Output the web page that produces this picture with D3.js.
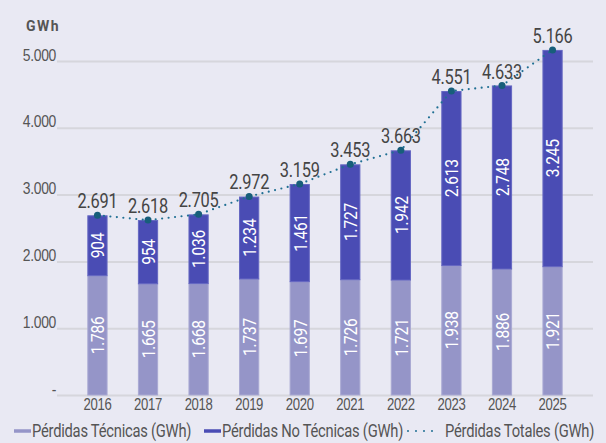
<!DOCTYPE html>
<meta charset="utf-8">
<style>
body { margin: 0; background: #e9e9f3; }
svg { display: block; font-family: Roboto, sans-serif; }
.axis .domain { display: none; }
.axis line { stroke: #d6d6dc; stroke-width: 2; }
.axis text { fill: #555; font-size: 17px; letter-spacing: -0.4px; }
</style>
<body>
<script src="https://cdn.jsdelivr.net/npm/d3@7"></script>
<script>
var years = ['2016', '2017', '2018', '2019', '2020', '2021', '2022', '2023', '2024', '2025']
var tecnicas = [1786, 1665, 1668, 1737, 1697, 1726, 1721, 1938, 1886, 1921]
var noTecnicas = [904, 954, 1036, 1234, 1461, 1727, 1942, 2613, 2748, 3245]
var totales = [2691, 2618, 2705, 2972, 3159, 3453, 3663, 4551, 4633, 5166]
var yTicks = [0, 1000, 2000, 3000, 4000, 5000]

var W = 606, H = 443
var m = { left: 57, right: 593, top: 61, bottom: 395 }
var squeeze = 0.82

var fmt = function (n) { return n === 0 ? '-' : d3.format(',')(n).replace(/,/g, '.') }

var svg = d3.select('body').append('svg').attr('width', W).attr('height', H)

var x = d3.scaleBand().domain(years).range([m.left, m.right]).padding(0.6)
var y = d3.scaleLinear().domain([0, 5000]).range([m.bottom, m.top])

var gy = svg.append('g')
    .attr('class', 'y axis')
    .attr('transform', 'translate(' + m.left + ',0)')
    .call(d3.axisLeft(y).tickValues(yTicks).tickSize(-(m.right - m.left)).tickPadding(1).tickFormat(fmt))
gy.selectAll('text')
    .attr('x', 0).attr('dy', '-0.05em')
    .attr('transform', 'translate(-1,0) scale(' + squeeze + ',1)')

svg.append('g')
    .attr('class', 'x axis')
    .attr('transform', 'translate(0,' + m.bottom + ')')
    .call(d3.axisBottom(x).tickSize(0).tickPadding(4))
    .selectAll('text')
    .style('font-size', '16px')
    .attr('transform', 'scale(' + squeeze + ',1)')

svg.append('text')
    .attr('x', 26).attr('y', 31)
    .attr('fill', '#555').style('font-size', '14px').style('font-weight', 'bold')
    .style('letter-spacing', '1.5px')
    .text('GWh')

var rows = years.map(function (yr, i) {
    return { year: yr, tec: tecnicas[i], noTec: noTecnicas[i], total: totales[i] }
})

var bars = svg.append('g').selectAll('g').data(rows).enter().append('g')

bars.append('rect')
    .attr('x', function (d) { return x(d.year) + 0.5 })
    .attr('width', x.bandwidth() - 1)
    .attr('y', function (d) { return y(d.tec) })
    .attr('height', function (d) { return y(0) - y(d.tec) })
    .attr('fill', '#9595c8')
    .attr('stroke', '#a9a9d3')
    .attr('stroke-width', 1)

bars.append('rect')
    .attr('x', function (d) { return x(d.year) + 0.5 })
    .attr('width', x.bandwidth() - 1)
    .attr('y', function (d) { return y(d.tec + d.noTec) + 0.5 })
    .attr('height', function (d) { return y(d.tec) - y(d.tec + d.noTec) - 0.5 })
    .attr('fill', '#4a4cb4')
    .attr('stroke', '#6567c2')
    .attr('stroke-width', 1)

// labels inside the bars, rotated
function inLabel(sel, lo, hi) {
    sel.append('text')
        .attr('transform', function (d) {
            var cx = x(d.year) + x.bandwidth() / 2
            var cy = (y(lo(d)) + y(hi(d))) / 2
            return 'translate(' + cx + ',' + cy + ') rotate(-90) scale(' + squeeze + ',1)'
        })
        .attr('text-anchor', 'middle')
        .attr('dy', '0.36em')
        .attr('fill', '#fff')
        .style('font-size', '19px')
        .style('letter-spacing', '-0.3px')
        .text(function (d) { return fmt(hi(d) - lo(d)) })
}
inLabel(bars, function () { return 0 }, function (d) { return d.tec })
inLabel(bars, function (d) { return d.tec }, function (d) { return d.tec + d.noTec })

var cx = function (d) { return x(d.year) + x.bandwidth() / 2 }

svg.append('path')
    .datum(rows)
    .attr('fill', 'none')
    .attr('stroke', '#1f6f93')
    .attr('stroke-width', 2.2)
    .attr('stroke-dasharray', '0 6.5')
    .attr('stroke-linecap', 'round')
    .attr('d', d3.line().x(cx).y(function (d) { return y(d.total) }))

svg.append('g').selectAll('circle').data(rows).enter().append('circle')
    .attr('cx', cx)
    .attr('cy', function (d) { return y(d.total) })
    .attr('r', 3.5)
    .attr('fill', '#175e7a')

svg.append('g').selectAll('text').data(rows).enter().append('text')
    .attr('transform', function (d) {
        return 'translate(' + cx(d) + ',' + (y(d.total) - 7) + ') scale(' + squeeze + ',1)'
    })
    .attr('text-anchor', 'middle')
    .attr('fill', '#444')
    .style('font-size', '20px')
    .style('letter-spacing', '-0.3px')
    .text(function (d) { return fmt(d.total) })

// legend
var legend = svg.append('g').style('font-size', '18px').style('letter-spacing', '-0.3px').attr('fill', '#555')
var items = [
    { label: 'Pérdidas Técnicas (GWh)', color: '#9595c8', x: 14, dots: false },
    { label: 'Pérdidas No Técnicas (GWh)', color: '#4a4cb4', x: 204, dots: false },
    { label: 'Pérdidas Totales (GWh)', color: '#1f6f93', x: 407, dots: true }
]
items.forEach(function (it) {
    var g = legend.append('g').attr('transform', 'translate(' + it.x + ',431)')
    g.append('line')
        .attr('x1', it.dots ? 1 : 0).attr('x2', it.dots ? 28 : 17)
        .attr('stroke', it.color)
        .attr('stroke-width', it.dots ? 2 : 3.5)
        .attr('stroke-dasharray', it.dots ? '0 8' : null)
        .attr('stroke-linecap', it.dots ? 'round' : 'butt')
    g.append('text')
        .attr('transform', 'translate(' + (it.dots ? 38 : 18) + ',0) scale(' + squeeze + ',1)')
        .attr('dy', '0.35em')
        .text(it.label)
})
</script>
</body>
